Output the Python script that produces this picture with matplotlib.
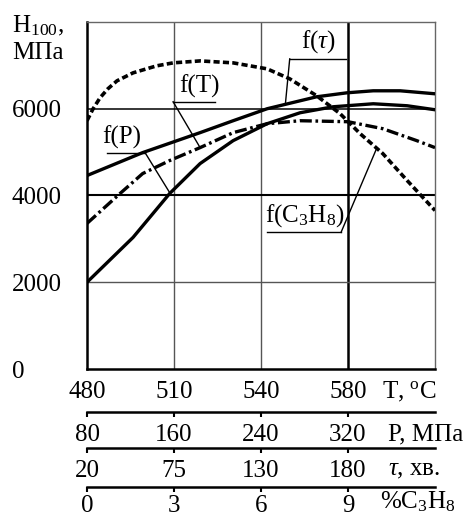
import numpy as np
import matplotlib.pyplot as plt

plt.rcParams['font.family'] = ['Liberation Serif', 'DejaVu Serif']
plt.rcParams['mathtext.fontset'] = 'custom'
plt.rcParams['mathtext.rm'] = 'Liberation Serif'
plt.rcParams['mathtext.it'] = 'Liberation Serif:italic'

# x is in grid steps along the common scale (0..4), y is H100 in MPa
tau_x = [0, 0.64, 1.30, 1.68, 2.07, 2.64, 2.99, 3.29, 3.60, 4.0]
tau_y = [4460, 4989, 5449, 5724, 6000, 6276, 6368, 6414, 6414, 6345]

p_x = [0, 0.53, 0.95, 1.30, 1.68, 2.07, 2.45, 2.83, 3.29, 3.68, 4.0]
p_y = [2000, 3035, 4046, 4736, 5265, 5655, 5908, 6046, 6115, 6069, 5977]

t_x = [0, 0.38, 0.64, 0.95, 1.30, 1.68, 2.07, 2.45, 3.0, 3.40, 3.79, 4.0]
t_y = [3356, 4046, 4506, 4805, 5104, 5449, 5655, 5724, 5701, 5540, 5265, 5104]

c_x = [0, 0.07, 0.15, 0.24, 0.345, 0.53, 0.80, 0.99, 1.30, 1.68, 2.07, 2.33,
       2.64, 2.91, 3.14, 3.40, 3.68, 4.0]
c_y = [5724, 6000, 6253, 6460, 6644, 6828, 6989, 7058, 7103, 7058, 6920, 6690,
       6299, 5885, 5425, 4966, 4345, 3655]

# tick labels of the four stacked scales
T_labels = ['480', '510', '540', '580']
P_labels = ['80', '160', '240', '320']
tau_labels = ['20', '75', '130', '180']
c3h8_labels = ['0', '3', '6', '9']
y_ticks = [0, 2000, 4000, 6000]

W, H = 470, 517
fs = 18
fig = plt.figure(figsize=(W / 100, H / 100), dpi=100)
ax = fig.add_axes([87 / W, 1 - 369 / H, 348 / W, 347 / H])
ax.set_xlim(0, 4)
ax.set_ylim(0, 8000)


def ftext(x_px, y_px, s, **kw):
    fig.text(x_px / W, 1 - y_px / H, s, fontsize=fs, **kw)


# grid
for x in [1, 2]:
    ax.axvline(x, color='#555555', lw=1.0, zorder=1)
ax.axvline(3, color='black', lw=1.8, zorder=1)
ax.axhline(2000, color='#555555', lw=1.0, zorder=1)
ax.axhline(4000, color='black', lw=1.5, zorder=1)
ax.axhline(6000, color='black', lw=1.1, zorder=1)

for side in ['top', 'right']:
    ax.spines[side].set_color('#666666')
    ax.spines[side].set_linewidth(1.0)
for side in ['left', 'bottom']:
    ax.spines[side].set_linewidth(1.8)

ax.set_yticks(y_ticks)
ax.set_yticklabels([str(v) for v in y_ticks], fontsize=fs, ha='left')
ax.tick_params(axis='y', length=0, pad=54)
ax.set_xticks([0, 1, 2, 3])
ax.set_xticklabels(T_labels, fontsize=fs)
ax.tick_params(axis='x', length=0, pad=9)

# axis titles
ftext(12, 32, 'H$_{\\mathregular{100}}$,', va='baseline')
ftext(12, 59, 'МПа', va='baseline')
ftext(382, 398, 'T, $^{\\mathregular{o}}$C', va='baseline')

# curves
ax.plot(tau_x, tau_y, color='black', lw=2.4, solid_joinstyle='round', zorder=3)
ax.plot(p_x, p_y, color='black', lw=2.4, solid_joinstyle='round', zorder=3)
ax.plot(t_x, t_y, color='black', lw=2.4, dashes=(3.6, 1.1, 0.8, 1.1), zorder=3)
ax.plot(c_x, c_y, color='black', lw=2.6, dashes=(1.7, 0.9), zorder=3)


# curve labels with leader lines
def leader(text, tx, ty, ux0, ux1, uy, ex, ey):
    ax.text(tx, ty, text, fontsize=fs, ha='center', va='bottom', zorder=4)
    ax.plot([ux0, ux1], [uy, uy], color='black', lw=1.0, zorder=4)
    ax.plot([ux1 if ex > ux1 else ux0, ex], [uy, ey], color='black', lw=1.0, zorder=4)


leader('f($\\tau$)', 2.66, 7230, 2.33, 2.98, 7150, 2.28, np.interp(2.28, tau_x, tau_y))
leader('f(T)', 1.29, 6240, 0.99, 1.47, 6161, 1.30, np.interp(1.30, t_x, t_y))
leader('f(P)', 0.40, 5070, 0.23, 0.667, 4989, 0.954, np.interp(0.954, p_x, p_y))
leader('f(C$_{\\mathregular{3}}$H$_{\\mathregular{8}}$)', 2.50, 3230, 2.07, 2.92, 3150,
       3.33, np.interp(3.33, c_x, c_y))

# stacked scales under the plot: line position, labels, label pad, unit text and its baseline
scales = [(412, P_labels, 5, 'P, МПа', 388, 440),
          (448, tau_labels, 5, '$\\tau$, хв.', 388, 475),
          (487, c3h8_labels, 2.5, '%C$_{\\mathregular{3}}$H$_{\\mathregular{8}}$', 380, 508)]
for y_px, labels, pad, name, nx, ny in scales:
    sax = fig.add_axes([87 / W, 1 - y_px / H, 348 / W, 0.0001])
    sax.set_xlim(0, 4)
    sax.set_ylim(0, 1)
    for side in ['top', 'left', 'right']:
        sax.spines[side].set_visible(False)
    sax.spines['bottom'].set_linewidth(1.8)
    sax.set_yticks([])
    sax.set_xticks([0, 1, 2, 3])
    sax.set_xticklabels(labels, fontsize=fs)
    sax.tick_params(axis='x', direction='out', length=3.5, width=1.5, pad=pad)
    ftext(nx, ny, name, va='baseline')

fig.savefig('out.png', dpi=100)
